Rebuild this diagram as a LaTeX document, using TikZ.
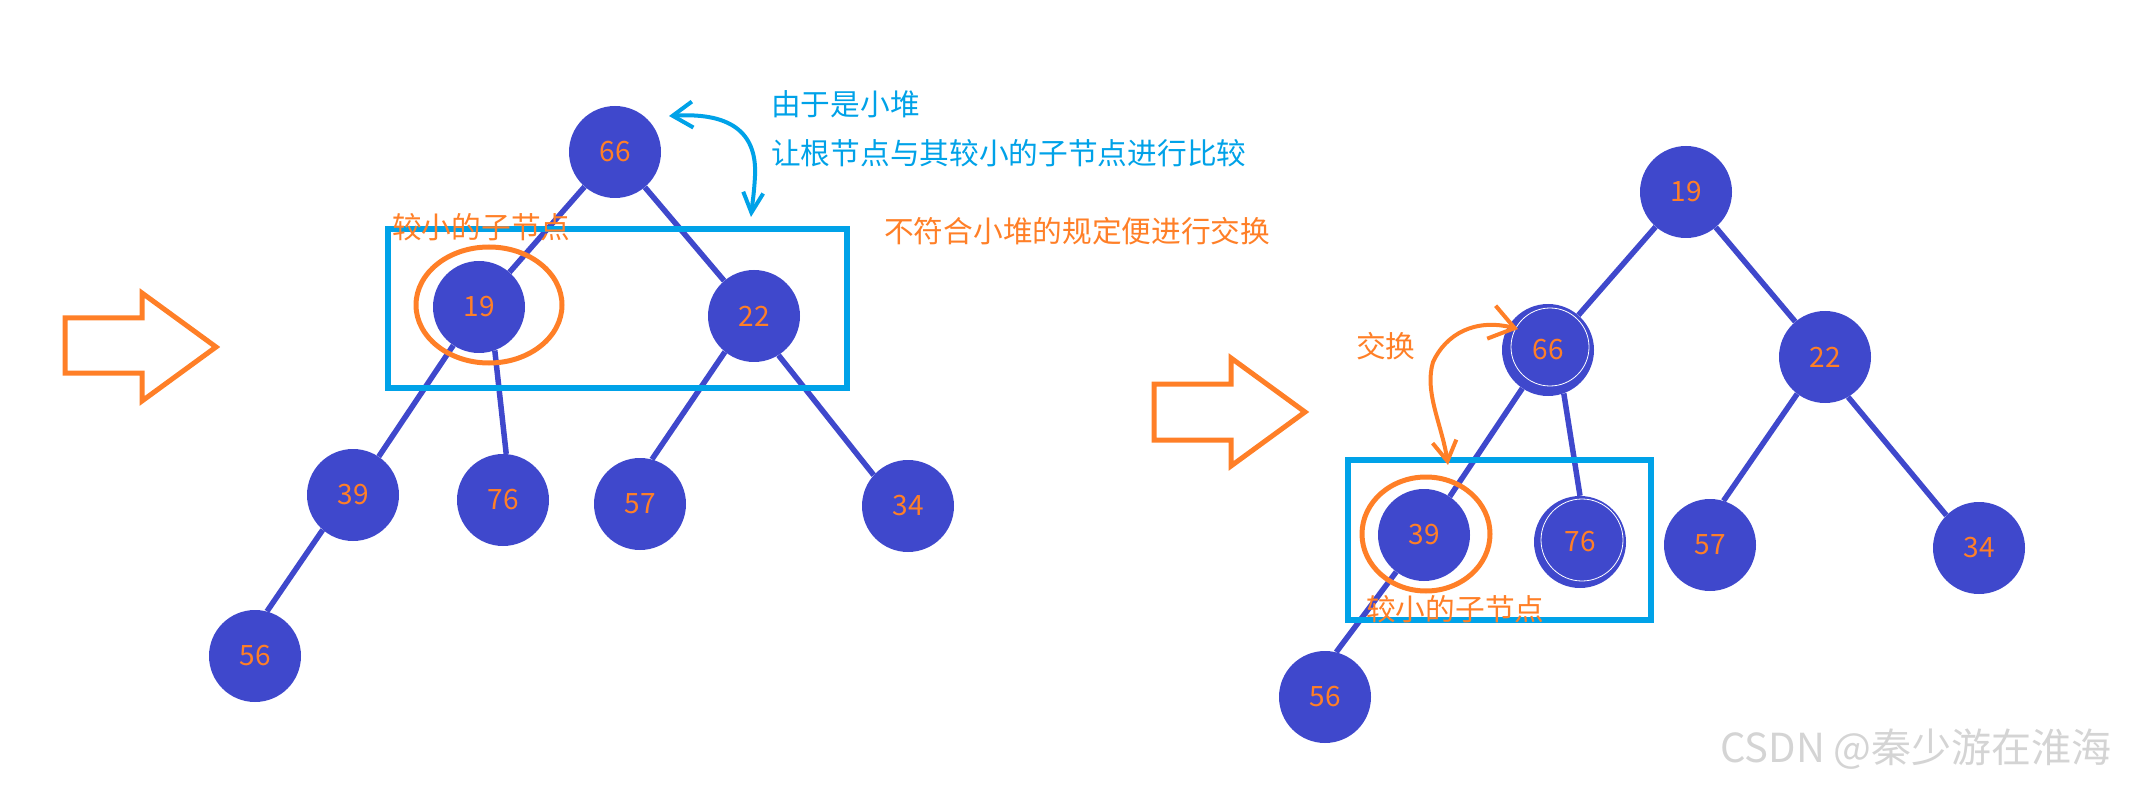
\documentclass[tikz,border=0pt]{standalone}
\usepackage{fontspec}
\setmainfont{Noto Sans CJK SC}
\usepackage{tikz}
\usetikzlibrary{arrows.meta}
\definecolor{heapblue}{RGB}{63,72,204}
\definecolor{heaporange}{RGB}{255,127,39}
\definecolor{markblue}{RGB}{0,162,232}
\definecolor{markgray}{RGB}{212,212,212}

\begin{document}
\begin{tikzpicture}[x=1pt,y=1pt,yscale=-1,xscale=1,
  heapnode/.style={circle,fill=heapblue,minimum size=92pt,inner sep=0pt,text=heaporange,font=\fontsize{28}{30}\selectfont},
  heapedge/.style={draw=heapblue,line width=5.5pt},
  note/.style={anchor=base west,inner sep=0pt,font=\fontsize{29.7}{32}\selectfont},
  markbox/.style={draw=markblue,line width=5.5pt},
  pickring/.style={draw=heaporange,line width=5pt},
  bigarrow/.style={draw=heaporange,line width=5pt,line join=miter},
  ghostring/.style={draw=white,line width=0.8pt}]
\useasboundingbox (0,0) rectangle (2129,786);

%Block Arrows
\draw[bigarrow] (65,318) -- (142,318) -- (142,293) -- (216,347) -- (142,401) -- (142,373) -- (65,373) -- cycle;
\draw[bigarrow] (1154,384) -- (1231,384) -- (1231,358) -- (1305,412) -- (1231,466) -- (1231,440) -- (1154,440) -- cycle;

% Left heap
\node[heapnode] (l66) at (615,152) {66};
\node[heapnode] (l19) at (479,307) {19};
\node[heapnode] (l22) at (754,316) {22};
\node[heapnode] (l39) at (353,495) {39};
\node[heapnode] (l76) at (503,500) {76};
\node[heapnode] (l57) at (640,504) {57};
\node[heapnode] (l34) at (908,506) {34};
\node[heapnode] (l56) at (255,656) {56};
\draw[heapedge] (l66) -- (l19);
\draw[heapedge] (l66) -- (l22);
\draw[heapedge] (l19) -- (l39);
\draw[heapedge] (l19.-70) -- (l76.86);
\draw[heapedge] (l22.-129) -- (l57.75);
\draw[heapedge] (l22.-58) -- (l34.138);
\draw[heapedge] (l39.-131) -- (l56.75);

% Right heap
\node[heapnode] (r19) at (1686,192) {19};
\node[heapnode] (r66) at (1548,350) {66};
\node[heapnode] (r22) at (1825,357) {22};
\node[heapnode] (r39) at (1424,535) {39};
\node[heapnode] (r76) at (1580,542) {76};
\node[heapnode] (r57) at (1710,545) {57};
\node[heapnode] (r34) at (1979,548) {34};
\node[heapnode] (r56) at (1325,697) {56};
\draw[heapedge] (r19) -- (r66);
\draw[heapedge] (r19) -- (r22);
\draw[heapedge] (r66) -- (r39);
\draw[heapedge] (r66.-70) -- (r76.90);
\draw[heapedge] (r22.-127) -- (r57.73);
\draw[heapedge] (r22.-60) -- (r34.135);
\draw[heapedge] (r39.-127) -- (r56.76);
\draw[ghostring] (1550,347) circle (39);
\draw[ghostring] (1582,540) circle (41);

%Boxes and rings
\draw[markbox] (388,229) rectangle (847,388);
\draw[markbox] (1348,460) rectangle (1651,620);
\draw[pickring] (489,305) ellipse [x radius=73,y radius=58];
\draw[pickring] (1426,534) ellipse [x radius=64,y radius=57];

%Curved Arrows
\coordinate (cmpA) at (669,116);
\coordinate (cmpB) at (751,217);
\draw[markblue,line width=4pt,{Straight Barb[length=20pt,width=26pt]}-{Straight Barb[length=20pt,width=20pt]}]
  (cmpA) .. controls (735,112) and (757,136) .. (755,176) .. controls (754,195) and (752,206) .. (cmpB);
\coordinate (swapA) at (1518,329);
\coordinate (swapB) at (1448,465);
\draw[heaporange,line width=4pt,{Straight Barb[length=24pt,width=34pt]}-{Straight Barb[length=20pt,width=24pt]}]
  (swapA) .. controls (1475,318) and (1446,334) .. (1433,362) .. controls (1424,392) and (1442,425) .. (swapB);

% Text Node
\node[note,text=markblue] (t1) at (771,116) {由于是小堆};
% Text Node
\node[note,text=markblue] (t2) at (771,165) {让根节点与其较小的子节点进行比较};
% Text Node
\node[note,text=heaporange] (t3) at (884,243) {不符合小堆的规定便进行交换};
% Text Node
\node[note,text=heaporange] (t4) at (392,239) {较小的子节点};
% Text Node
\node[note,text=heaporange] (t5) at (1356,358) {交换};
% Text Node
\node[note,text=heaporange] (t6) at (1366,620) {较小的子节点};
% Text Node
\node[anchor=base west,inner sep=0pt,text=markgray,font=\fontsize{40}{42}\selectfont] (wm) at (1720,762) {CSDN @秦少游在淮海};

\end{tikzpicture}
\end{document}
